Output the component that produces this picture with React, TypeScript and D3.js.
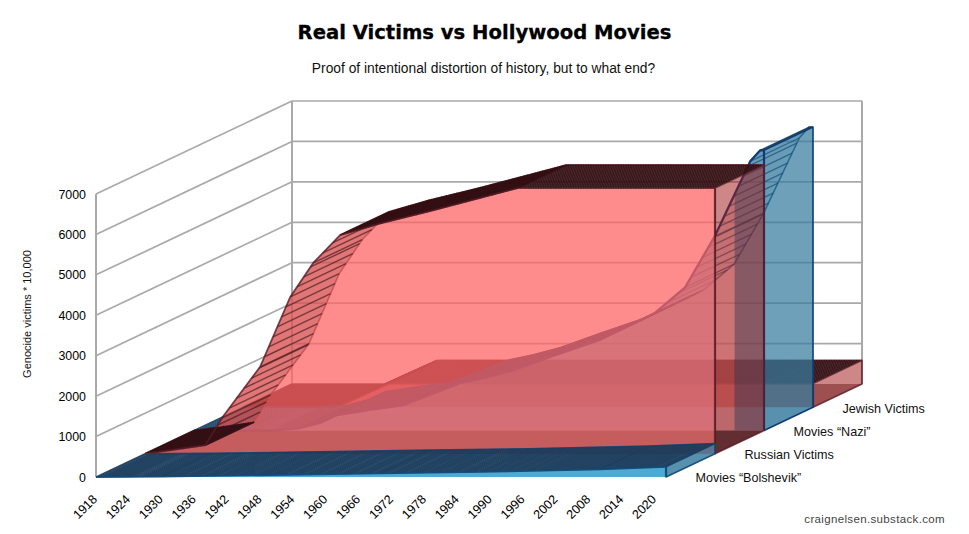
import React from "react";
import * as d3 from "d3";

const WIDTH = 969;
const HEIGHT = 534;

const title = "Real Victims vs Hollywood Movies";
const subtitle = "Proof of intentional distortion of history, but to what end?";
const yAxisTitle = "Genocide victims * 10,000";
const credit = "craignelsen.substack.com";

const yTicks = [0, 1000, 2000, 3000, 4000, 5000, 6000, 7000];
const xTicks = [1918, 1924, 1930, 1936, 1942, 1948, 1954, 1960, 1966, 1972, 1978, 1984, 1990, 1996, 2002, 2008, 2014, 2020];

const bolshevikYears = [1918, 1930, 1950, 1970, 1988, 2010, 2022];
const bolshevikValues = [0, 10, 50, 90, 125, 190, 250];

const russianYears = [1918, 1929, 1932, 1939, 1944.5, 1948.7, 1953.6, 1961, 1970, 1979, 1986, 2022];
const russianValues = [0, 210, 880, 2150, 3880, 4720, 5410, 5700, 6000, 6320, 6570, 6570];

const nazismYears = [1918, 1932, 1937, 1941, 1944, 1950, 1956, 1961, 1966.5, 1971, 1976, 1983, 1992, 2002, 2007.6, 2013, 2019.5, 2021.3, 2022];
const nazismValues = [0, 0, 50, 185, 380, 510, 620, 880, 1170, 1300, 1480, 1820, 2240, 2900, 3540, 4800, 6660, 6930, 6930];
const nazismFaceGap = [2013, 2016.6];

const jewishYears = [1918, 1935, 1944.5, 2022];
const jewishValues = [0, 0, 585, 585];

const seriesLabels = ["Movies “Bolshevik”", "Russian Victims", "Movies “Nazi”", "Jewish Victims"];

type Pt = [number, number];

const x = d3.scaleLinear().domain([1918, 2022]).range([96, 666]);
const y = d3.scaleLinear().domain([0, 7000]).range([477, 194]);
const zx = d3.scaleLinear().domain([0, 4]).range([0, 196]);
const zy = d3.scaleLinear().domain([0, 4]).range([0, -93]);

const project = (year: number, value: number, z: number): Pt => [x(year) + zx(z), y(value) + zy(z)];
const line = d3.line<Pt>();

const GRID = "#a9a9a9";

function hatchStops(front: Pt[], flatStep: number): { p: Pt; steep: boolean }[] {
  const out: { p: Pt; steep: boolean }[] = [];
  for (let i = 0; i < front.length - 1; i++) {
    const [x0, y0] = front[i];
    const [x1, y1] = front[i + 1];
    const dx = Math.abs(x1 - x0);
    const dy = Math.abs(y1 - y0);
    const steep = dy / Math.max(dx, 0.001) > 0.6;
    const step = steep ? 10 / dy : flatStep / Math.max(dx, 0.001);
    for (let t = 0; t < 1; t += step) out.push({ p: [x0 + (x1 - x0) * t, y0 + (y1 - y0) * t], steep });
  }
  return out;
}

interface Look {
  face: string;
  side: string;
  top: string;
  bottom: string;
  hatch: string;
  flatHatch: string;
  edge: string;
  flatStep: number;
  hatchWidth: number;
  curveWidth: number;
  bottomOverFace: boolean;
}

const redLook: Look = {
  face: "rgba(255,100,100,0.74)",
  side: "rgba(160,25,25,0.52)",
  top: "rgba(120,40,40,0.22)",
  bottom: "rgba(60,25,30,0.5)",
  hatch: "rgba(62,20,24,0.62)",
  flatHatch: "rgba(52,16,20,0.95)",
  edge: "rgba(88,28,38,0.8)",
  flatStep: 2.5,
  hatchWidth: 1.5,
  curveWidth: 1.8,
  bottomOverFace: false,
};
const jewishLook: Look = { ...redLook, bottomOverFace: true };
const russianLook: Look = { ...redLook, bottom: "rgba(10,50,55,0.9)" };
const blueLook: Look = {
  face: "rgba(54,123,158,0.72)",
  side: "rgba(54,123,158,0.72)",
  top: "rgba(40,110,150,0.08)",
  bottom: "rgba(54,123,158,0.4)",
  hatch: "rgba(18,70,112,0.62)",
  flatHatch: "rgba(18,62,100,0.85)",
  edge: "rgba(16,60,118,1)",
  flatStep: 2.2,
  hatchWidth: 1.3,
  curveWidth: 2.3,
  bottomOverFace: false,
};
const frontBlueLook: Look = { ...blueLook, face: "rgba(60,165,210,0.85)", flatHatch: "rgba(28,60,92,0.9)", flatStep: 1.9, edge: "rgba(16,74,122,0.92)", curveWidth: 1.8 };

const GAP_FILL = "rgba(255,180,180,0.55)";

function Slab({ id, years, values, z, look, gap }: { id: string; years: number[]; values: number[]; z: number; look: Look; gap?: number[] }) {
  const c = look;
  const front = years.map((yr, i) => project(yr, values[i], z));
  const back = years.map((yr, i) => project(yr, values[i], z + 1));
  const first = years[0];
  const last = years[years.length - 1];
  const base0 = project(first, 0, z);
  const base1 = project(last, 0, z);
  const baseB0 = project(first, 0, z + 1);
  const baseB1 = project(last, 0, z + 1);
  const offset: Pt = [zx(1), zy(1)];
  const stops = hatchStops(front, c.flatStep);
  const lastF = front[front.length - 1];
  const lastB = back[back.length - 1];
  const clipId = `clip-${id}`;
  const facePath = line([...front, base1, base0])! + "Z";
  const bottom = <path d={line([base0, base1, baseB1, baseB0])! + "Z"} fill={c.bottom} />;
  const side = <path d={line([lastF, lastB, baseB1, base1])! + "Z"} fill={c.side} stroke={c.edge} strokeWidth={1.6} strokeLinejoin="round" />;
  const face = <path d={facePath} fill={c.face} clipPath={gap ? `url(#${clipId})` : undefined} />;
  return (
    <g>
      {gap && (
        <>
          <clipPath id={clipId}>
            <rect x={0} y={0} width={project(gap[0], 0, z)[0]} height={HEIGHT} />
            <rect x={project(gap[1], 0, z)[0]} y={0} width={WIDTH} height={HEIGHT} />
          </clipPath>
          <clipPath id={`${clipId}-gap`}>
            <rect x={project(gap[0], 0, z)[0]} y={0} width={project(gap[1], 0, z)[0] - project(gap[0], 0, z)[0]} height={HEIGHT} />
          </clipPath>
        </>
      )}
      {c.bottomOverFace ? face : bottom}
      {c.bottomOverFace ? bottom : null}
      <path d={line(back)!} fill="none" stroke={c.edge} strokeWidth={1.6} />
      {side}
      {c.bottomOverFace ? null : face}
      {gap && <path d={facePath} fill={GAP_FILL} clipPath={`url(#${clipId}-gap)`} />}
      {front.slice(0, -1).map((p, i) => (
        <path key={i} d={line([p, front[i + 1], back[i + 1], back[i]])! + "Z"} fill={c.top} />
      ))}
      {stops.map(({ p, steep }, i) => (
        <path key={i} d={line([p, [p[0] + offset[0], p[1] + offset[1]]])!} stroke={steep ? c.hatch : c.flatHatch} strokeWidth={c.hatchWidth} fill="none" />
      ))}
      <path d={line(front)!} fill="none" stroke={c.edge} strokeWidth={c.curveWidth} />
      <path d={line([lastF, base1])!} fill="none" stroke={c.edge} strokeWidth={2.2} />
    </g>
  );
}

export default function App() {
  const corner = (v: number, z: number, yr = 1918) => project(yr, v, z);
  return (
    <svg width={WIDTH} height={HEIGHT} style={{ position: "absolute", left: 0, top: 0, background: "#fff" }} fontFamily="'Liberation Sans', Arial, sans-serif">
      <text x={484.5} y={39} textAnchor="middle" fontFamily="'DejaVu Sans'" fontWeight={700} fontSize={19.6} stroke="#000" strokeWidth={0.3} fill="#000">{title}</text>
      <text x={483.5} y={73} textAnchor="middle" fontSize={13.8} fill="#111">{subtitle}</text>

      {yTicks.map((t) => (
        <g key={t} stroke={GRID} strokeWidth={1.7} fill="none">
          <path d={line([corner(t, 0), corner(t, 4)])!} />
          {t > 0 && <path d={line([corner(t, 4), corner(t, 4, 2022)])!} />}
        </g>
      ))}
      <path d={line([corner(0, 0), corner(7000, 0)])!} stroke={GRID} strokeWidth={2} fill="none" />
      <path d={line([corner(0, 4), corner(7000, 4)])!} stroke={GRID} strokeWidth={2} fill="none" />
      <path d={line([corner(0, 4, 2022), corner(7000, 4, 2022)])!} stroke={GRID} strokeWidth={2} fill="none" />

      <Slab id="jewish" years={jewishYears} values={jewishValues} z={3} look={jewishLook} />
      <Slab id="nazi" years={nazismYears} values={nazismValues} z={2} look={blueLook} gap={nazismFaceGap} />
      <Slab id="russian" years={russianYears} values={russianValues} z={1} look={russianLook} />
      <Slab id="bolshevik" years={bolshevikYears} values={bolshevikValues} z={0} look={frontBlueLook} />

      {yTicks.map((t) => (
        <text key={t} x={86} y={y(t) + 4.5} textAnchor="end" fontSize={12.4} fill="#000">{t}</text>
      ))}
      {xTicks.map((t) => (
        <text key={t} transform={`translate(${x(t) + 2},${500}) rotate(-45)`} textAnchor="end" fontSize={12.6} fill="#000">{t}</text>
      ))}
      <text transform={`translate(31,314) rotate(-90)`} textAnchor="middle" fontSize={11} fill="#111">{yAxisTitle}</text>

      {seriesLabels.map((s, i) => {
        const p = project(2022, 0, i + 0.5);
        return (
          <text key={s} x={p[0] + 5} y={p[1] + 17} fontSize={12.6} fill="#111">{s}</text>
        );
      })}
      <text x={945} y={523} textAnchor="end" fontSize={11.5} letterSpacing={0.35} fill="#444">{credit}</text>
    </svg>
  );
}
